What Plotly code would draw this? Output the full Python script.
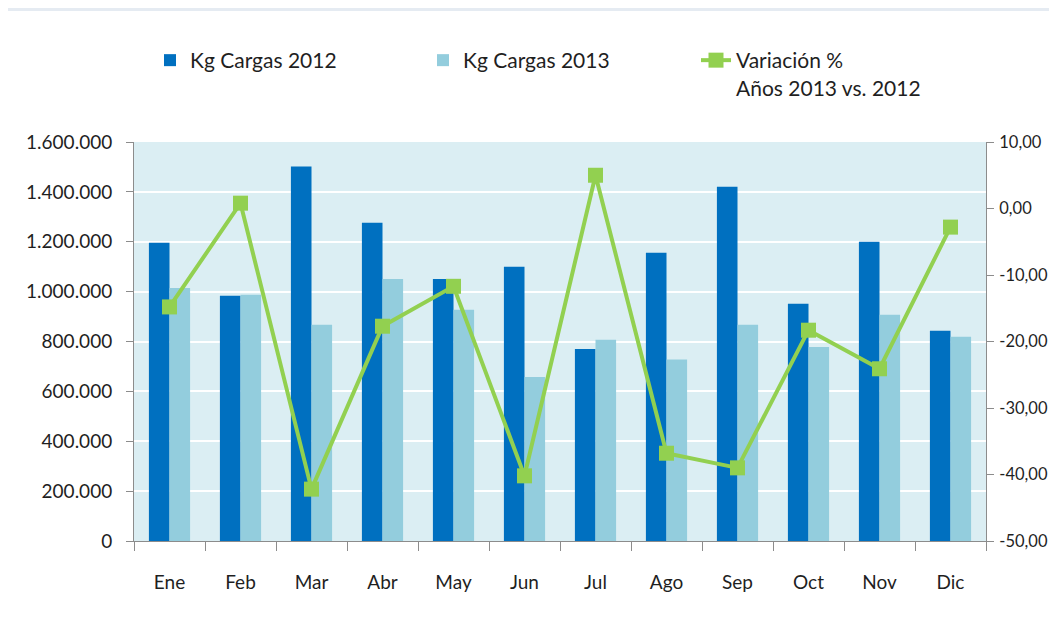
import plotly.graph_objects as go

months = ["Ene", "Feb", "Mar", "Abr", "May", "Jun", "Jul", "Ago", "Sep", "Oct", "Nov", "Dic"]
kg_2012 = [1196000, 983000, 1502000, 1276000, 1051000, 1100000, 770000, 1156000, 1421000, 951000, 1200000, 843000]
kg_2013 = [1015000, 987000, 867000, 1051000, 927000, 658000, 807000, 728000, 867000, 778000, 907000, 819000]
variacion = [-14.8, 0.8, -42.2, -17.7, -11.7, -40.2, 5.0, -36.8, -39.0, -18.3, -24.1, -2.8]
y2_ticks = [-50, -40, -30, -20, -10, 0, 10]
y2_labels = ["-50,00", "-40,00", "-30,00", "-20,00", "-10,00", "0,00", "10,00"]

name_2012 = "Kg Cargas 2012"
name_2013 = "Kg Cargas 2013"
name_var = "Variación %<br>Años 2013 vs. 2012"

FONT = "Lato"
TXT = "#1f1f1f"
AXIS = "#8c8c8c"

fig = go.Figure()
fig.add_trace(go.Bar(x=months, y=kg_2012, name=name_2012, marker=dict(color="#0070C0", line=dict(width=0))))
fig.add_trace(go.Bar(x=months, y=kg_2013, name=name_2013, marker=dict(color="#93CDDD", line=dict(width=0))))
fig.add_trace(go.Scatter(x=months, y=variacion, name=name_var, yaxis="y2", mode="lines+markers",
                         line=dict(color="#92D050", width=4),
                         marker=dict(symbol="square", size=15, color="#92D050")))

# the page shows the figure inside an 8px body margin; size it to fit the window without scrollbars
W, H = 1041, 612
L, R, T, B = 126, 63, 134, 79
pw, ph = W - L - R, H - T - B

def px_x(p):
    return (p - L) / pw

def px_y(p):
    return 1 - (p - T) / ph

fig.update_layout(
    width=W, height=H,
    margin=dict(l=L, r=R, t=T, b=B, pad=0, autoexpand=False),
    paper_bgcolor="white",
    plot_bgcolor="#DBEEF3",
    barmode="group",
    bargap=0.42,
    bargroupgap=0,
    font=dict(family=FONT, size=19, color=TXT),
    showlegend=True,
    legend=dict(orientation="h", x=px_x(142), y=px_y(32), xanchor="left", yanchor="top",
                entrywidth=228, entrywidthmode="pixels", itemwidth=30,
                font=dict(family=FONT, size=21, color=TXT), bgcolor="rgba(0,0,0,0)",
                tracegroupgap=0, valign="top"),
    xaxis=dict(type="category", range=[-0.5, len(months) - 0.5], autorange=False,
               showline=True, linecolor=AXIS, linewidth=1, automargin=False,
               ticks="outside", ticklen=9, tickcolor=AXIS, tickson="boundaries",
               showgrid=False, tickfont=dict(family=FONT, size=19, color=TXT), ticklabelstandoff=24),
    yaxis=dict(range=[0, 1600000], dtick=200000, tickformat=",d", separatethousands=True,
               showline=True, linecolor=AXIS, automargin=False, ticklabelstandoff=10,
               linewidth=1, ticks="outside", ticklen=7, tickcolor=AXIS, showgrid=True,
               gridcolor="white", gridwidth=1.5, zeroline=False,
               tickfont=dict(family=FONT, size=19, color=TXT)),
    yaxis2=dict(range=[-50, 10], tickvals=y2_ticks, ticktext=y2_labels, overlaying="y", side="right",
                showline=True, linecolor=AXIS, linewidth=1, ticks="outside", ticklen=7, automargin=False,
                ticklabelstandoff=2,
                tickcolor=AXIS, showgrid=False, zeroline=False,
                tickfont=dict(family=FONT, size=16.5, color=TXT)),
    separators=",.",
    shapes=[
        dict(type="rect", xref="paper", yref="paper", x0=px_x(0), x1=px_x(W), y0=px_y(3), y1=px_y(0),
             fillcolor="#E5EBF2", line=dict(width=0), layer="below"),
    ],
)

fig.write_html("out.html")
